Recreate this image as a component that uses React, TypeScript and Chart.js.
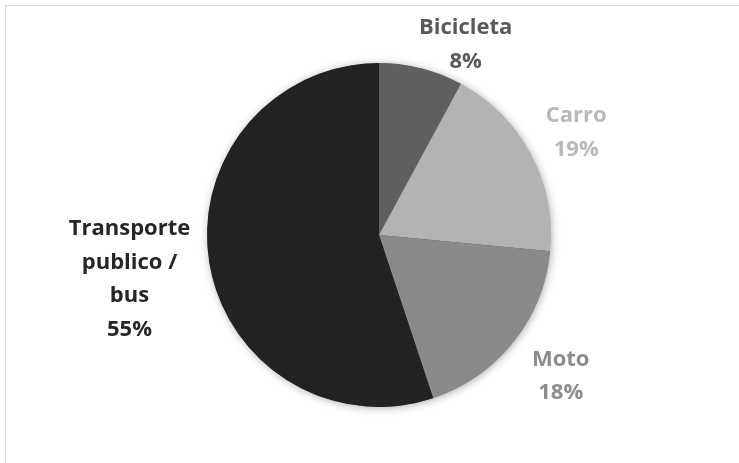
import React, { useEffect, useRef } from "react";
import { Chart, registerables } from "chart.js";

Chart.register(...registerables);

const categories = ["Bicicleta", "Carro", "Moto", "Transporte publico / bus"];
const labelLines = [["Bicicleta"], ["Carro"], ["Moto"], ["Transporte", "publico /", "bus"]];
const values = [7.9, 18.6, 18.4, 55.1];
const sliceColors = ["#5f5f5f", "#b3b3b3", "#8a8a8a", "#222222"];
const labelColors = ["#595959", "#b8b8b8", "#8c8c8c", "#262626"];
const labelNudges = [[28, 1], [1, 4], [9, 1], [0, 3]];

const FONT = 'bold 22px "Open Sans", "Noto Sans", sans-serif';
const LINE_H = 33.5;
const GAP = 20;
const MIN_TOP = 10;

const shadowPlugin = {
  id: "pieShadow",
  beforeDatasetsDraw(chart: any) {
    const meta = chart.getDatasetMeta(0);
    const arc = meta.data[0];
    if (!arc) return;
    const { x, y, outerRadius } = arc.getProps(["x", "y", "outerRadius"], true);
    const ctx = chart.ctx;
    ctx.save();
    ctx.shadowColor = "rgba(0,0,0,0.35)";
    ctx.shadowBlur = 8;
    ctx.shadowOffsetX = 1;
    ctx.shadowOffsetY = 1;
    ctx.fillStyle = "#444";
    ctx.beginPath();
    ctx.arc(x, y, outerRadius - 0.5, 0, Math.PI * 2);
    ctx.fill();
    ctx.restore();
  },
};

const labelPlugin = {
  id: "outsideLabels",
  afterDatasetsDraw(chart: any) {
    const meta = chart.getDatasetMeta(0);
    const ctx = chart.ctx;
    const total = values.reduce((a, b) => a + b, 0);
    ctx.save();
    ctx.font = FONT;
    ctx.textAlign = "center";
    ctx.textBaseline = "middle";
    meta.data.forEach((el: any, i: number) => {
      const { x, y, startAngle, endAngle, outerRadius } = el.getProps(
        ["x", "y", "startAngle", "endAngle", "outerRadius"],
        true
      );
      const mid = (startAngle + endAngle) / 2;
      const dx = Math.cos(mid);
      const dy = Math.sin(mid);
      const lines = [...labelLines[i], Math.round((values[i] / total) * 100) + "%"];
      const w = Math.max(...lines.map((l) => ctx.measureText(l).width));
      const h = lines.length * LINE_H;
      let cx = x + dx * (outerRadius + GAP) + dx * (w / 2);
      let cy = y + dy * (outerRadius + GAP) + dy * (h / 2);
      if (cy - h / 2 < MIN_TOP) cy = MIN_TOP + h / 2;
      cx += labelNudges[i][0];
      cy += labelNudges[i][1];
      ctx.fillStyle = labelColors[i];
      lines.forEach((l, k) => {
        ctx.fillText(l, cx, cy - h / 2 + LINE_H * (k + 0.5));
      });
    });
    ctx.restore();
  },
};

export default function App() {
  const ref = useRef<HTMLCanvasElement | null>(null);
  useEffect(() => {
    if (!ref.current) return;
    const chart = new Chart(ref.current, {
      type: "pie",
      data: {
        labels: categories,
        datasets: [
          {
            data: values,
            backgroundColor: sliceColors,
            borderWidth: 0,
            hoverOffset: 0,
            offset: 0,
          },
        ],
      },
      options: {
        responsive: false,
        animation: false,
        layout: { padding: { left: 207, right: 188, top: 63, bottom: 56 } },
        plugins: { legend: { display: false }, tooltip: { enabled: false } },
      },
      plugins: [shadowPlugin, labelPlugin],
    } as any);
    return () => chart.destroy();
  }, []);
  return (
    <div style={{ position: "absolute", left: 0, top: 0, width: 739, height: 463, background: "#fff", overflow: "hidden" }}>
      <div
        style={{
          position: "absolute",
          left: 5,
          top: 5,
          width: 800,
          height: 600,
          borderTop: "1px solid #d9d9d9",
          borderLeft: "1px solid #d9d9d9",
        }}
      />
      <canvas ref={ref} width={739} height={463} style={{ position: "absolute", left: 0, top: 0, display: "block" }} />
    </div>
  );
}
